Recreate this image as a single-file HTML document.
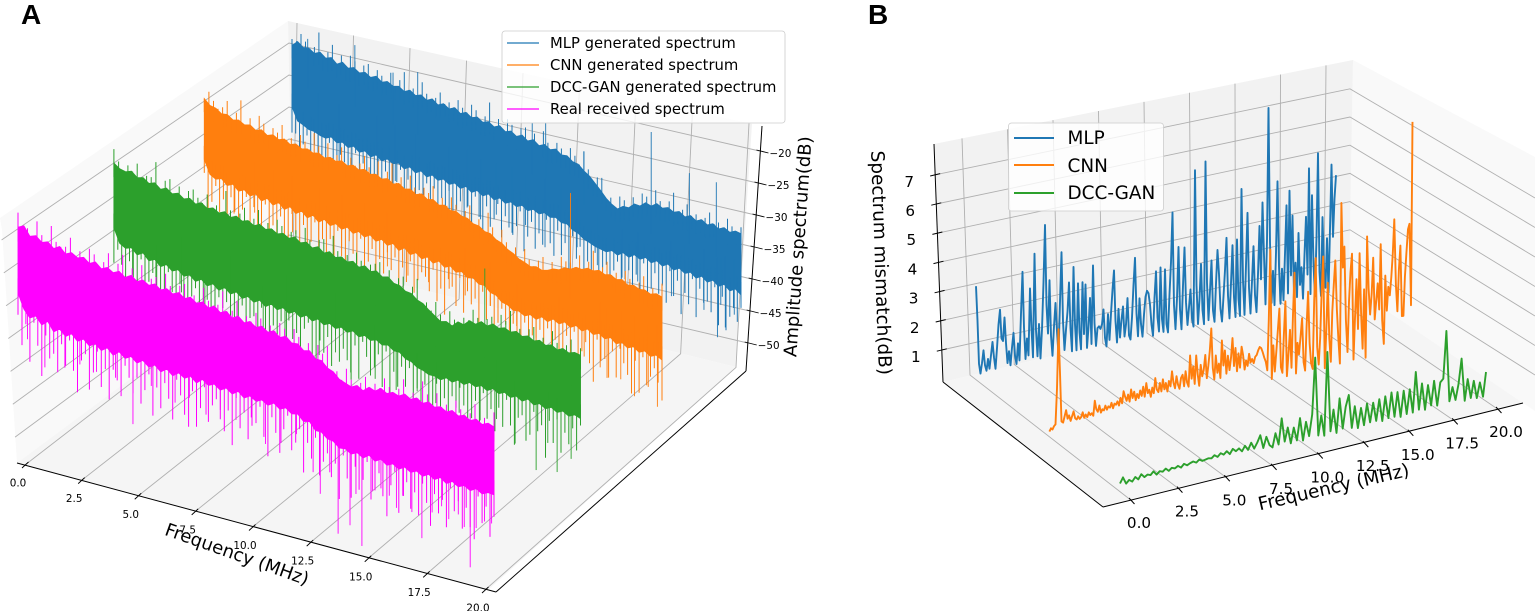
<!DOCTYPE html>
<html lang="en">
<head>
<meta charset="utf-8">
<title>Spectrum comparison</title>
<style>
html,body{margin:0;padding:0;background:#fff}
svg{display:block}
text{font-family:"DejaVu Sans","Liberation Sans",sans-serif;fill:#000}
.panel-letter{font-family:"Liberation Sans",sans-serif;font-weight:700;font-size:28px}
.leg-a{font-size:14.8px}
.leg-b{font-size:18.4px}
.title{font-size:18px}
.title-b{font-size:18.4px}
</style>
</head>
<body>
<svg id="chart" xmlns="http://www.w3.org/2000/svg" width="1535" height="611" viewBox="0 0 1535 611">
  <g id="panel-a">
    <polygon points="288,21 0,218 2,230 17,463 293,258" fill="#f9f9f9"/>
    <polygon points="288,21 752,124 736,367 293,258" fill="#f2f2f2"/>
    <polygon points="17,463 488,590 736,367 293,258" fill="#f5f5f5"/>
    <g id="a-grid"></g>
    <line x1="17" y1="463" x2="496" y2="592" stroke="#000" stroke-width="1"/>
    <line x1="496" y1="592" x2="746" y2="371" stroke="#000" stroke-width="1"/>
    <line x1="746" y1="371" x2="762" y2="126" stroke="#000" stroke-width="1"/>
    <g id="a-ticks"></g>
    <g id="a-series"></g>
    <text class="title" text-anchor="middle" transform="translate(235,560) rotate(19.6)">Frequency (MHz)</text>
    <text class="title" text-anchor="middle" transform="translate(804,247) rotate(-86)">Amplitude spectrum(dB)</text>
    <g>
      <rect x="502" y="31" width="283" height="92" rx="3" fill="#fff" fill-opacity=".8" stroke="#ccc" stroke-width=".8"/>
      <line x1="507" y1="43" x2="539" y2="43" stroke="#1f77b4" stroke-width="1.2"/>
      <text class="leg-a" x="550" y="48">MLP generated spectrum</text>
      <line x1="507" y1="65" x2="539" y2="65" stroke="#ff7f0e" stroke-width="1.2"/>
      <text class="leg-a" x="550" y="70">CNN generated spectrum</text>
      <line x1="507" y1="87" x2="539" y2="87" stroke="#2ca02c" stroke-width="1.2"/>
      <text class="leg-a" x="550" y="92">DCC-GAN generated spectrum</text>
      <line x1="507" y1="109" x2="539" y2="109" stroke="#ff00ff" stroke-width="1.2"/>
      <text class="leg-a" x="550" y="114">Real received spectrum</text>
    </g>
    <text class="panel-letter" x="21" y="24">A</text>
  </g>

  <g id="panel-b">
    <polygon points="1353,60 1535,157 1535,411 1523,403 1349,285" fill="#f9f9f9"/>
    <polygon points="934,144 1353,60 1349,285 943,382" fill="#f2f2f2"/>
    <polygon points="943,382 1349,285 1523,403 1103,507" fill="#f5f5f5"/>
    <g id="b-grid"></g>
    <line x1="934" y1="144" x2="943" y2="382" stroke="#000" stroke-width="1"/>
    <line x1="943" y1="382" x2="1103" y2="507" stroke="#000" stroke-width="1"/>
    <line x1="1103" y1="507" x2="1523" y2="403" stroke="#000" stroke-width="1"/>
    <g id="b-ticks"></g>
    <g id="b-series"></g>
    <text class="title-b" text-anchor="middle" transform="translate(1335,493) rotate(-13)">Frequency (MHz)</text>
    <text class="title-b" text-anchor="middle" transform="translate(875,263) rotate(88)">Spectrum mismatch(dB)</text>
    <g>
      <rect x="1008.5" y="123" width="155" height="88" rx="3" fill="#fff" fill-opacity=".8" stroke="#ccc" stroke-width=".8"/>
      <line x1="1014" y1="138" x2="1054" y2="138" stroke="#1f77b4" stroke-width="2"/>
      <text class="leg-b" x="1067.5" y="144">MLP</text>
      <line x1="1014" y1="165" x2="1054" y2="165" stroke="#ff7f0e" stroke-width="2"/>
      <text class="leg-b" x="1067.5" y="172">CNN</text>
      <line x1="1014" y1="193" x2="1054" y2="193" stroke="#2ca02c" stroke-width="2"/>
      <text class="leg-b" x="1067.5" y="199">DCC-GAN</text>
    </g>
    <text class="panel-letter" x="868" y="24">B</text>
  </g>
</svg>
<script>
const freqTicks = [0, 2.5, 5, 7.5, 10, 12.5, 15, 17.5, 20];
const ampTicks = [-20, -25, -30, -35, -40, -45, -50];
const mismatchTicks = [1, 2, 3, 4, 5, 6, 7];

const mlpSpecTop = [-21.6,-20.8,-21.5,-21.4,-22,-21.6,-22.3,-22,-22.8,-22.3,-23,-22.7,-23.3,-23,-23.6,-23.2,-23.9,-23.6,-24.1,-23.9,-24.5,-24.1,-24.7,-24.4,-25,-24.6,-25.3,-24.9,-25.5,-25.1,-25.8,-25.4,-26,-25.7,-26.3,-26,-26.6,-26.2,-26.9,-26.6,-27.2,-26.8,-27.5,-27.1,-27.8,-27.4,-28,-27.7,-28.4,-28.3,-29,-29.2,-30,-30.6,-31.5,-32.4,-33.4,-34.1,-34.6,-34,-34,-33.2,-33.3,-32.6,-32.9,-32.3,-32.8,-32.5,-33,-32.7,-33.3,-32.9,-33.5,-33.1,-33.7,-33.3,-33.9,-33.5,-34,-33.6,-33.8];
const mlpSpecBody = [-31,-33,-33.4,-33.9,-34,-34.4,-34.6,-34.2,-34.9,-34.6,-35.2,-34.8,-35.5,-35.1,-35.8,-35.3,-36,-35.5,-36,-35.7,-36.4,-35.9,-36.6,-36.1,-36.8,-36.3,-36.9,-36.5,-37.1,-36.7,-37.3,-36.8,-37.5,-37,-37.6,-37.1,-37.8,-37.3,-37.9,-37.5,-38,-37.6,-38.2,-37.8,-38.3,-37.9,-38.4,-38.2,-38.8,-38.8,-39.5,-39.8,-40.5,-40.8,-41.2,-41.4,-41.6,-41.2,-41.7,-41.1,-41.6,-41,-41.5,-41,-41.6,-41.1,-41.7,-41.2,-41.9,-41.4,-42,-41.6,-42.3,-41.8,-42.5,-42,-42.7,-42.2,-43,-42.5,-43.2];
const mlpSpikeFreq = [0.7,2.8,4.5,5.6,10.7,11.3,13,16,17.7,18.9,1.16,2.1,3.8,4.6,5.5,7,7.8,8.4,9.1,9.8,10.4,11.27,12,12.7,13.6,14.7,15.4,16.9,17.5,18.35,18.95,19.1,19.3,19.7];
const mlpSpikeDb = [-20,-19.2,-22,-21,-24.5,-24,-27,-21.5,-26.4,-26.8,-37,-38,-39,-38.6,-39.6,-41,-40,-41.3,-40,-42.2,-40.5,-43.2,-41,-42,-44,-45,-45,-46,-45,-46.9,-50.6,-45.5,-48.8,-46.5];
const mlpCombDepth = [4,2,6,3,1,5,2,7,3,5,1,4,6,2,3,7,5,1,4,2,6,3,5,1,7,2,4,6,3,1,5,2,4,7,3,6,1,5,2,4,3,6,1,7,4,2,5,3,6,1,4,7,2,5,3,1,6,2,4,5,3,1,7,4,2,6,3,5,1,4,6,2,5,3,7,1,4,2,6,3,5,1,4,7,2,6,3,1,5,4,2,6,3,5,1,7,4,2,5,3,6,1,4,2,7,3,5,1,6,2,4,3,5,1,6,2,7,4,3,5,2];
const mlpCrest = [1,0,2,1,0,1,3,0,1,2,0,1,0,2,1,0,1,2,0,1,1,0,2,0,1,3,0,1,0,2,1,0,1,2,0,1,0,2,1,0,2,1,0,1,3,0,1,0,2,1,0,1,2,0,1,0,2,1,0,1,1,0,2,1,0,3,1,0,1,2,0,1,0,2,1,0,1,0,2,1,0,2,1,0,1,3,0,1,2,0,1,0,1,2,0,1,0,2,1,0,1];

const cnnSpecTop = [-21,-21.8,-22,-22.6,-22.5,-23.1,-22.9,-23.4,-23.2,-23.8,-23.5,-24.1,-23.8,-24.3,-24,-24.6,-24.3,-24.8,-24.6,-25,-24.8,-25.3,-25,-25.4,-25.1,-25.6,-25.3,-25.8,-25.5,-26,-25.8,-26.3,-26,-26.6,-26.3,-26.9,-26.7,-27.3,-27,-27.6,-27.4,-28,-27.8,-28.4,-28.3,-28.8,-28.9,-29.5,-29.6,-30.2,-30.3,-31,-31.3,-32,-32.4,-33,-33.3,-33.7,-33.5,-33.8,-33.6,-33.2,-33.1,-32.6,-32.6,-32.1,-32.2,-31.8,-32,-31.7,-32.1,-31.9,-32.4,-32.2,-32.8,-32.6,-33,-32.9,-33.3,-33,-33.3];
const cnnSpecBody = [-30,-32,-32.5,-32.2,-33,-32.6,-33.4,-33,-33.7,-33.2,-34,-33.4,-34.2,-33.6,-34.4,-33.8,-34.6,-34,-34.8,-34.2,-35,-34.4,-35.1,-34.6,-35.2,-34.7,-35.4,-34.9,-35.5,-35,-35.7,-35.2,-35.9,-35.4,-36.2,-35.6,-36.4,-35.9,-36.6,-36.1,-36.8,-36.3,-37,-36.6,-37.3,-37,-37.7,-37.5,-38.2,-38.2,-39,-39.2,-40,-40.2,-40.8,-40.7,-41.2,-40.8,-41.3,-40.7,-41.2,-40.6,-41.1,-40.6,-41.2,-40.7,-41.3,-40.8,-41.4,-41,-41.6,-41.2,-41.9,-41.5,-42.1,-41.7,-42.3,-41.9,-42.5,-42.1,-42.6];
const cnnSpikeFreq = [16,1.3,2.2,3,3.85,5,6,7,8,8.9,9.8,10.7,11.4,12.5,13.65,14.5,15.5,16.6,17.3,17.6,18.2,18.8,19.4,19.8];
const cnnSpikeDb = [-21.3,-36.9,-36,-36.4,-37.5,-37.6,-38.2,-38.4,-39,-39.6,-39.8,-40,-40.4,-41,-43,-44,-44.5,-45,-46,-47.3,-47,-49,-47.1,-49.7];
const cnnCombDepth = [2,6,4,1,5,3,7,2,4,6,3,1,5,2,7,4,1,6,3,5,2,4,7,1,3,6,2,5,4,1,6,3,7,2,5,1,4,6,2,3,5,1,7,4,2,6,3,5,1,4,2,7,3,5,1,6,4,2,3,5,1,6,4,7,2,3,5,1,6,2,4,3,7,1,5,2,6,4,1,3,5,2,7,4,1,6,3,5,2,4,1,6,3,7,5,2,4,1,6,3,2,5,7,1,4,3,6,2,5,1,3,4,7,2,6,1,5,3,2,4,6];
const cnnCrest = [0,2,1,0,1,2,0,1,3,0,1,0,2,1,0,1,1,2,0,1,0,2,1,0,3,1,0,2,0,1,2,0,1,0,1,2,1,0,2,0,1,3,0,1,0,2,1,0,1,1,2,0,1,0,2,1,0,1,2,0,1,0,3,1,0,2,1,0,1,0,2,1,0,1,2,0,1,0,2,1,1,0,2,0,1,3,0,1,2,0,1,0,2,1,0,1,2,0,1,0,2];

const ganSpecTop = [-21.8,-22.4,-22.6,-22.3,-23,-22.8,-23.4,-23.1,-23.8,-23.4,-24,-23.7,-24.3,-24,-24.6,-24.2,-24.8,-24.5,-25,-24.6,-25.2,-24.8,-25.3,-25,-25.5,-25.1,-25.6,-25.3,-25.8,-25.5,-26,-25.6,-26.2,-25.9,-26.5,-26.1,-26.8,-26.4,-27,-26.7,-27.2,-26.9,-27.5,-27.1,-27.7,-27.4,-28,-27.8,-28.5,-28.6,-29.2,-29.3,-30,-30.3,-31,-31.6,-32.2,-32,-32.4,-31.6,-31.8,-31,-31.3,-30.7,-31.1,-30.6,-31,-30.7,-31.1,-30.8,-31.3,-31,-31.5,-31.2,-31.7,-31.4,-31.9,-31.5,-31.9,-31.6,-31.8];
const ganSpecBody = [-31,-33,-33.5,-33.2,-34,-33.5,-34.4,-34,-34.8,-34.3,-35,-34.6,-35.3,-34.9,-35.6,-35.1,-35.8,-35.3,-36,-35.4,-36.1,-35.6,-36.3,-35.8,-36.4,-35.9,-36.6,-36,-36.6,-36.1,-36.7,-36.2,-36.8,-36.3,-36.9,-36.4,-37,-36.6,-37.1,-36.7,-37.2,-36.8,-37.4,-37,-37.5,-37.2,-37.7,-37.5,-38.1,-38.1,-38.8,-39,-39.6,-39.8,-40.2,-40.2,-40.5,-40,-40.4,-39.9,-40.3,-39.8,-40.2,-39.8,-40.3,-39.8,-40.3,-39.9,-40.4,-40,-40.5,-40,-40.6,-40.2,-40.7,-40.3,-40.8,-40.4,-40.9,-40.5,-40.8];
const ganSpikeFreq = [15.9,0.8,1.8,2.9,3.9,5,6.4,7.4,8.8,9.5,10.15,11.2,12.1,13,13.8,14.8,15.7,16.4,17.2,18.1,18.6,19,19.6];
const ganSpikeDb = [-23,-37,-38,-37.7,-38.7,-39,-39.8,-40.5,-41.5,-40.5,-42.8,-42.8,-43.6,-43,-44,-44.5,-44.8,-44,-46.8,-49.8,-45.5,-49.3,-46.9];
const ganCombDepth = [5,1,3,6,2,7,4,1,5,3,2,6,4,7,1,3,5,2,6,4,3,1,7,5,2,4,6,1,3,2,5,7,4,1,6,3,2,5,1,4,7,3,6,2,5,1,4,3,6,2,1,5,7,3,4,2,6,1,5,3,4,7,2,6,1,3,5,4,2,6,1,7,3,5,2,4,1,6,3,5,2,4,7,1,6,3,5,2,4,1,3,6,5,2,7,1,4,3,6,2,5,1,4,7,3,2,6,5,1,4,3,7,2,5,1,6,3,4,2,5,1];
const ganCrest = [2,1,0,1,0,2,0,1,1,3,0,1,2,0,1,0,1,2,1,0,2,0,1,0,3,1,0,1,2,0,1,2,0,1,0,2,1,0,1,1,0,2,1,0,1,2,0,3,1,0,1,0,2,1,0,1,1,2,0,1,0,1,2,0,1,3,0,1,0,2,1,0,2,1,0,1,0,2,1,0,1,1,0,2,1,3,0,1,0,1,2,0,1,0,2,1,0,1,2,0,1];

const realSpecTop = [-22,-21.6,-22.8,-22.5,-23.2,-22.9,-23.6,-23.1,-23.9,-23.5,-24,-23.7,-24.3,-23.9,-24.6,-24.2,-24.7,-24.3,-24.9,-24.4,-25,-24.6,-25.1,-24.7,-25.3,-24.9,-25.4,-25,-25.6,-25.2,-25.8,-25.4,-26,-25.5,-26.2,-25.8,-26.5,-26,-26.7,-26.3,-26.9,-26.5,-27.1,-26.7,-27.4,-27,-27.7,-27.6,-28.3,-28.1,-29,-29,-29.8,-30.1,-30.9,-31.2,-31.5,-31.1,-31.6,-30.9,-31.2,-30.6,-31.1,-30.7,-31,-30.5,-31,-30.6,-31.1,-30.7,-31.2,-30.9,-31.4,-31,-31.5,-31.2,-31.7,-31.3,-31.8,-31.4,-31.7];
const realSpecBody = [-31,-33,-34,-33.5,-34.5,-33.8,-35,-34.4,-35.2,-34.6,-35.4,-34.9,-35.6,-35.1,-35.8,-35.2,-36,-35.3,-36,-35.5,-36.2,-35.6,-36.3,-35.8,-36.5,-35.9,-36.6,-36,-36.5,-36,-36.7,-36,-36.6,-36.2,-36.8,-36.3,-36.9,-36.3,-37,-36.5,-37,-36.6,-37.1,-36.6,-37.2,-36.8,-37.4,-37.2,-38,-37.8,-38.8,-38.8,-39.5,-39.6,-40.3,-40.2,-40.7,-40.3,-40.8,-40.2,-40.8,-40.3,-40.9,-40.5,-41,-40.5,-41,-40.6,-41.1,-40.6,-41.1,-40.6,-41.2,-40.7,-41.2,-40.8,-41.3,-40.8,-41.3,-40.9,-41];
const realSpikeFreq = [0.4,1.13,1.97,2.6,3.3,4.1,4.83,5.6,6.6,7.2,7.9,8.5,9.16,9.8,10.4,11.05,11.7,12.4,12.7,13.1,13.45,13.95,14.2,14.45,14.9,15.25,15.6,15.9,16.2,16.55,16.97,17.4,17.8,18.1,18.5,18.75,19,19.25,19.6,19.9];
const realSpikeDb = [-37,-40.2,-39.5,-38.5,-38.9,-39,-44.7,-38.8,-40.2,-39,-40.7,-39.5,-40.3,-39.4,-42.5,-41.8,-40,-44.6,-47.3,-44,-52.1,-50.5,-46,-52.9,-45,-44.3,-45,-46.4,-44.5,-46.4,-49.6,-45.7,-44.5,-46,-45,-46.5,-51.8,-46.2,-45,-45];
const realCombDepth = [3,5,2,6,1,4,7,2,5,3,6,2,4,1,5,7,3,2,6,4,1,5,3,7,2,4,6,1,3,5,2,6,4,1,7,3,5,2,4,6,1,3,5,7,2,6,4,1,5,3,2,4,6,3,7,1,5,2,6,4,3,1,5,7,2,4,6,3,1,5,4,2,7,3,5,1,6,4,2,5,3,7,1,4,6,2,5,3,1,6,4,2,5,7,3,1,6,4,2,5,3,6,1,4,7,2,5,3,6,1,4,2,6,3,5,7,1,4,2,6,3];
const realCrest = [2,0,1,0,2,1,0,3,1,0,1,2,0,1,0,2,1,0,1,2,0,1,3,0,1,0,2,0,1,1,0,2,1,0,1,2,0,1,0,2,1,0,1,3,0,1,2,0,1,0,2,1,0,1,0,2,1,0,2,1,0,1,0,2,1,3,0,1,0,2,1,0,1,2,0,1,0,2,1,0,1,2,0,1,0,3,1,0,2,0,1,0,2,1,0,1,2,0,1,0,2];

const mlpMismatch = [3.2,2,.5,.15,.5,.93,.4,.2,.6,.25,.7,1.15,.6,.2,.9,1.7,2.2,1.2,1.1,1.9,1,.3,.7,.2,.8,1.3,.5,.2,.9,.3,1.9,3.33,1.4,.3,1,.4,2.7,1.3,.3,3.86,1.2,.3,1.4,.2,1.2,2.8,4.77,2,1,2.83,.9,.2,1.2,2,1,.2,2,3.7,1.3,.3,1,1.6,2.6,1,.2,3.1,1.1,.2,2.5,.8,.2,2.5,.7,2.4,.2,.9,1.9,.3,3,1,.2,.8,.85,.75,.9,1.4,.4,.1,1.2,.3,1.2,2,2.66,.9,.15,1.3,.3,.9,1.35,.3,.7,1.6,.3,.15,.9,2,2.93,1,.2,1.5,.6,.15,.9,1.5,1.7,1.6,1.2,.5,.1,1.4,2.3,.7,.2,2.4,.6,.15,2.3,.4,.1,1.4,2.5,4.2,1,.15,1.2,2.96,.8,.1,1.6,2.9,1,.2,.8,1.4,.4,.1,5.48,1.5,.15,1,2.2,.6,.1,5.7,1.5,.2,1.2,2.24,.5,.1,1.4,2.55,1.7,.5,.05,.9,1.8,2.9,.9,.1,1.3,2.6,.8,.1,2.76,.7,.1,4.47,1.3,.1,1.8,3.6,1,.1,1.2,2.4,.7,.1,1.4,3.05,1.2,3.84,2,.3,2.5,7.05,2.4,.3,1.4,.2,2,4.45,1.5,.2,1.4,.3,1.9,3.55,.5,4.03,1.1,3.15,.4,1.5,.3,2.5,.7,1.3,.2,1.7,3,1,4.65,.3,3.7,1.3,.2,2.2,5.1,1,.15,2.86,1.1,.4,2.1,.2,2.4,4.6,2.1,3.4,4.2];
const cnnMismatch = [.1,.2,.15,.25,.3,1.5,3.5,2,.35,.3,.5,.7,.4,.5,.3,.45,.6,.35,.3,.4,.3,.35,.5,.3,.4,.3,.45,.35,.4,.3,.8,.5,.4,.6,.35,.45,.4,.55,.4,.5,.45,.6,.4,.55,.5,.6,.45,.7,.5,.9,.7,.55,.75,.5,.9,.6,.8,.5,.7,.55,.8,.6,.9,.55,1,.65,.75,.5,.8,.6,1.1,.7,.6,.9,.6,1,.65,.85,.55,.9,.7,1.2,.8,.6,1,.7,.55,.9,1,.6,1.1,.7,.55,1.6,.8,1.2,.6,1.55,.9,.5,1.2,.8,1,1.5,.7,1.1,1.6,2.35,1,.6,1.4,.8,1.1,.6,1.86,1,1.5,.7,1.3,.8,1.2,1.86,.9,1.5,.7,1.3,.8,1.5,1.2,.7,1,.8,1.2,.9,1,.85,1.05,1.1,1.25,1.35,1.3,1.15,.95,.8,.5,2.2,4.57,.17,1.3,.4,1.1,1.8,2.5,.5,.3,1.6,2.7,.15,.9,1.7,.4,2.2,3.6,.17,1.2,.8,1.4,2,.5,.2,1.7,2.85,1.1,.4,.2,2.5,3.93,.9,.3,1.2,2.8,3.93,.13,1.4,3,1.1,.3,2,2.9,3.7,2,1,.17,5.6,3.4,4.1,1.6,.5,2.2,3.2,3.8,.2,1.6,2.9,1.2,3.76,1.7,.5,2.5,.17,4.27,2.5,1.6,2.3,3.5,1.4,2,2.6,1.7,3.9,1.3,.5,2.8,1.6,2.4,2.1,2.7,3.5,4.64,2.4,1.5,2.9,3.7,1.3,1.3,2.6,3.4,4.2,4.37,1.6,7.8];
const ganMismatch = [.15,.33,.1,.2,.12,.25,.15,.3,.18,.24,.2,.3,.17,.26,.22,.3,.2,.28,.24,.3,.22,.32,.25,.3,.33,.27,.35,.28,.3,.32,.3,.38,.3,.4,.33,.42,.3,.45,.35,.42,.3,.46,.3,.52,.3,.48,.7,.25,.6,.3,.2,.65,.25,1.1,.3,.75,.2,.7,.25,.97,.2,.8,.3,1,2.87,.25,.9,.2,2.97,.3,1,.2,1.33,.3,1,1.37,.25,.95,.2,.85,.25,.95,.3,.93,.3,1,.25,1.05,.3,1.13,.3,1.1,.25,1.1,.3,1.1,.3,1.63,.35,1.2,.3,1.1,.4,1.2,.35,1.1,1.2,2.77,.4,.85,.4,.9,1.73,.3,1,.35,.9,.3,.8,.3,1.1];

const NS = 'http://www.w3.org/2000/svg';
function mk(tag, parent, attrs, txt) {
  const el = document.createElementNS(NS, tag);
  for (const k in attrs) el.setAttribute(k, attrs[k]);
  if (txt !== undefined) el.textContent = txt;
  parent.appendChild(el);
  return el;
}
function lerp(a, b, t) { return a + (b - a) * t; }

/* ---------- panel A axis functions ---------- */
function projA(f, d, z) {
  const t = f / 20;
  const x0 = lerp(18, 292, d), x1 = lerp(494, 741, d);
  const y0 = lerp(463, 258, d), y1 = lerp(592, 367, d);
  const s = lerp(7.3, 6.5, d);
  return [lerp(x0, x1, t), lerp(y0, y1, t) - (z + 54.3) * s];
}
function aFrontTick(f) { return [25 + f * 22.4 + f * f * 0.03, 465 + f * 6.25]; }
function aBackBottom(f) { const x = 293 + f * 22.15; return [x, 258 + (x - 293) * 0.247]; }
function aBackTop(f) { const x = 297 + f * 22.6; return [x, 21 + (x - 288) * 0.222]; }
function aCornerY(z) { return 43 + (-20 - z) * 6.4; }
function aLeftEnd(z) { return [17 - (z + 54.3) * 0.45, 240 + (-20 - z) * 6.57]; }
function aRightEnd(z) { const y = 151 + (-20 - z) * 6.4; return [746 + (371 - y) * 0.0612, y]; }

/* ---------- panel B axis functions ---------- */
function projB(f, d, z) {
  const t = f / 20;
  const x0 = lerp(1120, 976, d), x1 = lerp(1486, 1336, d);
  const y0 = lerp(488, 379, d), y1 = lerp(405, 297, d);
  const s = lerp(30, 29, d);
  return [lerp(x0, x1, t), lerp(y0, y1, t) - z * s];
}
function bFrontTick(f) { return [1132 + f * 19.3 - f * f * 0.0475, 501 - f * 4.55]; }
function bBackTop(f) { const x = 962 + f * 18.2; return [x, 144 - (x - 934) * 0.2005]; }
function bBackBottom(f) { const x = 970 + f * 17.7; return [x, 375 - (x - 970) * 0.2375]; }
function bLeftAxis(z) { const y = 350 - (z - 1) * 29.2; return [934 + (y - 144) * 0.0378, y]; }
function bCornerY(z) { return 258 - (z - 1) * 28.2; }
function bRightEnd(z) { return [1535, 375 - (z - 1) * 29.5]; }

/* ---------- panel A grid and ticks ---------- */
const aGrid = document.getElementById('a-grid');
const aTicks = document.getElementById('a-ticks');
const gridStyle = { stroke: '#b0b0b0', 'stroke-width': 0.9, fill: 'none' };
freqTicks.forEach(function (f) {
  const a = aFrontTick(f), b = aBackBottom(f), c = aBackTop(f);
  const g = mk('polyline', aGrid, Object.assign({ points: a.join(',') + ' ' + b.join(',') + ' ' + c.join(',') }, gridStyle));
  
  
  const t = mk('line', aTicks, { x1: a[0] - 3, y1: a[1] + 3, x2: a[0] + 3.5, y2: a[1] - 3, stroke: '#000', 'stroke-width': 0.9 });
  
  
  const lab = mk('text', aTicks, { x: a[0] - 7, y: a[1] + 21.5, 'text-anchor': 'middle', 'font-size': 10.4 }, f.toFixed(1));
  
  
});
ampTicks.forEach(function (z) {
  const l = aLeftEnd(z), cy = aCornerY(z), r = aRightEnd(z);
  const g = mk('polyline', aGrid, Object.assign({ points: l.join(',') + ' 289,' + cy + ' ' + r.join(',') }, gridStyle));
  
  
  const t = mk('line', aTicks, { x1: r[0] - 3, y1: r[1] - 1, x2: r[0] + 9, y2: r[1] + 2, stroke: '#000', 'stroke-width': 0.9 });
  
  
  const lab = mk('text', aTicks, { x: r[0] + 10, y: r[1] + 6, 'font-size': 10.4 }, '\u2212' + Math.abs(z));
  
  
});

/* ---------- panel A spectra ---------- */
function binValue(arr, f) { return arr[Math.round(f / 20 * (arr.length - 1))]; }
function drawSpectrum(name, color, depth, top, body, spikeFreq, spikeDb, comb, crest) {
  const host = document.getElementById('a-series');
  const g = mk('g', host, {});
  
  
  const n = top.length;
  const pts = [];
  for (let i = 0; i < n; i++) pts.push(projA(i / (n - 1) * 20, depth, top[i]).map(function (v) { return v.toFixed(1); }).join(','));
  for (let i = n - 1; i >= 0; i--) pts.push(projA(i / (n - 1) * 20, depth, body[i]).map(function (v) { return v.toFixed(1); }).join(','));
  const poly = mk('polygon', g, { points: pts.join(' '), fill: color, stroke: color, 'stroke-width': 0.9 });
  
  
  let d = '';
  comb.forEach(function (v, i) {
    const f = i / (comb.length - 1) * 20;
    const b = binValue(body, f);
    const p = projA(f, depth, b + 2), q = projA(f, depth, b - v);
    d += 'M' + p[0].toFixed(1) + ' ' + p[1].toFixed(1) + 'L' + q[0].toFixed(1) + ' ' + q[1].toFixed(1);
  });
  crest.forEach(function (v, i) {
    const f = i / (crest.length - 1) * 20;
    const b = binValue(top, f);
    const p = projA(f, depth, b - 2), q = projA(f, depth, b + v);
    d += 'M' + p[0].toFixed(1) + ' ' + p[1].toFixed(1) + 'L' + q[0].toFixed(1) + ' ' + q[1].toFixed(1);
  });
  const texture = mk('path', g, { d: d, fill: 'none', stroke: color, 'stroke-width': 1 });
  
  
  spikeFreq.forEach(function (f, i) {
    const a = projA(f, depth, (binValue(top, f) + binValue(body, f)) / 2), b = projA(f, depth, spikeDb[i]);
    const s = mk('line', g, { x1: a[0], y1: a[1], x2: b[0], y2: b[1], stroke: color, 'stroke-width': 0.9 });
    
    
  });
}
drawSpectrum('mlp-spectrum', '#1f77b4', 1, mlpSpecTop, mlpSpecBody, mlpSpikeFreq, mlpSpikeDb, mlpCombDepth, mlpCrest);
drawSpectrum('cnn-spectrum', '#ff7f0e', 0.68, cnnSpecTop, cnnSpecBody, cnnSpikeFreq, cnnSpikeDb, cnnCombDepth, cnnCrest);
drawSpectrum('dcc-gan-spectrum', '#2ca02c', 0.35, ganSpecTop, ganSpecBody, ganSpikeFreq, ganSpikeDb, ganCombDepth, ganCrest);
drawSpectrum('real-spectrum', '#ff00ff', 0, realSpecTop, realSpecBody, realSpikeFreq, realSpikeDb, realCombDepth, realCrest);

/* ---------- panel B grid and ticks ---------- */
const bGrid = document.getElementById('b-grid');
const bTicks = document.getElementById('b-ticks');
freqTicks.forEach(function (f) {
  const a = bFrontTick(f), b = bBackBottom(f), c = bBackTop(f);
  const g = mk('polyline', bGrid, Object.assign({ points: a.join(',') + ' ' + b.join(',') + ' ' + c.join(',') }, gridStyle));
  
  
  const t = mk('line', bTicks, { x1: a[0] - 3, y1: a[1] - 3, x2: a[0] + 2.5, y2: a[1] + 3, stroke: '#000', 'stroke-width': 1 });
  
  
  const lab = mk('text', bTicks, { x: a[0] + 7, y: a[1] + 27, 'text-anchor': 'middle', 'font-size': 15.2 }, f.toFixed(1));
  
  
});
mismatchTicks.forEach(function (z) {
  const l = bLeftAxis(z), cy = bCornerY(z), r = bRightEnd(z);
  const g = mk('polyline', bGrid, Object.assign({ points: l.join(',') + ' 1350,' + cy + ' ' + r.join(',') }, gridStyle));
  
  
  const t = mk('line', bTicks, { x1: l[0] - 5, y1: l[1] + 1.2, x2: l[0] + 5, y2: l[1] - 1.2, stroke: '#000', 'stroke-width': 1 });
  
  
  const lab = mk('text', bTicks, { x: l[0] - 26, y: l[1] + 12, 'text-anchor': 'middle', 'font-size': 15.2 }, String(z));
  
  
});

/* ---------- panel B series ---------- */
function drawMismatch(name, color, depth, values) {
  const host = document.getElementById('b-series');
  const n = values.length;
  const pts = values.map(function (v, i) {
    return projB(i / (n - 1) * 20, depth, v).map(function (c) { return c.toFixed(1); }).join(',');
  });
  const line = mk('polyline', host, { points: pts.join(' '), fill: 'none', stroke: color, 'stroke-width': 1.9, 'stroke-linejoin': 'round' });
  
  
}
drawMismatch('mlp-mismatch-line', '#1f77b4', 1, mlpMismatch);
drawMismatch('cnn-mismatch-line', '#ff7f0e', 0.49, cnnMismatch);
drawMismatch('dcc-gan-mismatch-line', '#2ca02c', 0, ganMismatch);
</script>
</body>
</html>
